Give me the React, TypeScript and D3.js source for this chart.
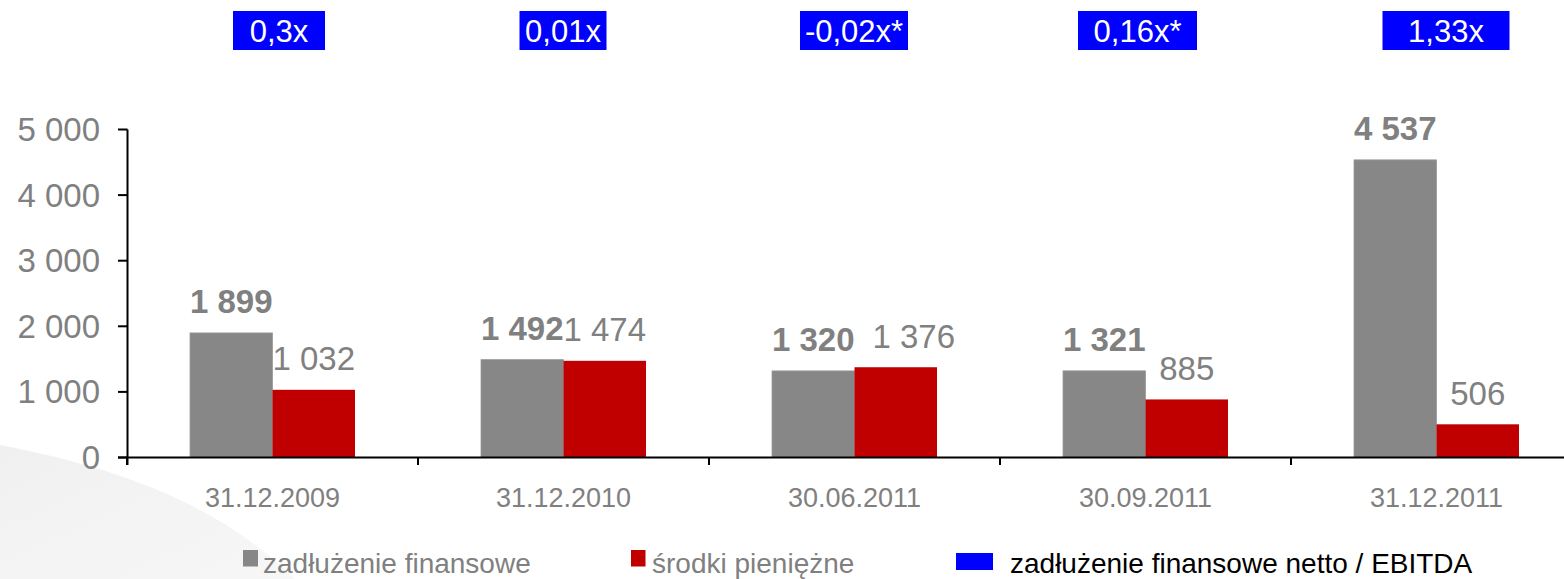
import React from "react";
import * as d3 from "d3";

const categories = ["31.12.2009", "31.12.2010", "30.06.2011", "30.09.2011", "31.12.2011"];
const debtValues = [1899, 1492, 1320, 1321, 4537];
const cashValues = [1032, 1474, 1376, 885, 506];
const ratioLabels = ["0,3x", "0,01x", "-0,02x*", "0,16x*", "1,33x"];
const yTicks = [0, 1000, 2000, 3000, 4000, 5000];
const seriesNames = ["zadłużenie finansowe", "środki pieniężne"];
const ratioLegend = "zadłużenie finansowe netto / EBITDA";

// layout of the manually placed ratio boxes and labels (style only)
const boxWidths = [92, 87, 108, 119, 127];
const boxOffsets = [6.5, -0.5, -0.5, -8, 9.5];
const cashLabelDx = [0, 0, 18, 0, 0];

const W = 1564;
const H = 579;
const FONT = "'Liberation Sans', Arial, Helvetica, sans-serif";
const GRAY = "#878787";
const RED = "#C00000";
const BLUE = "#0000FF";
const TEXT_GRAY = "#808080";

const fmt = (v: number) => {
  const s = String(Math.round(v));
  return s.replace(/\B(?=(\d{3})+(?!\d))/g, " ");
};

export default function App() {
  const x = d3.scaleBand<string>().domain(categories).range([127, 1582]).padding(0);
  const y = d3.scaleLinear().domain([0, 5000]).range([457.5, 129.5]);
  const barW = 82.5;
  const inner = d3
    .scaleBand<string>()
    .domain(["debt", "cash"])
    .range([-barW, barW])
    .padding(0);

  const axisY = y(0);
  const boundaries = d3.range(categories.length + 1).map((i) => 127 + x.step() * i);

  return (
    <svg
      width={W}
      height={H}
      viewBox={`0 0 ${W} ${H}`}
      style={{ position: "absolute", left: 0, top: 0, background: "#fff" }}
      fontFamily={FONT}
    >
      <defs>
        <linearGradient id="swoosh" x1="0" y1="0" x2="1" y2="1">
          <stop offset="0" stopColor="#f0f0f0" />
          <stop offset="1" stopColor="#f7f7f7" />
        </linearGradient>
      </defs>
      <rect x={0} y={0} width={W} height={H} fill="#fff" />
      <path d="M0,445 C120,468 220,505 295,579 L0,579 Z" fill="url(#swoosh)" />

      {/* ratio boxes */}
      {categories.map((c, i) => {
        const cx = (x(c) as number) + x.bandwidth() / 2 + boxOffsets[i];
        const bw = boxWidths[i];
        return (
          <g key={"box" + c}>
            <rect x={cx - bw / 2} y={11} width={bw} height={39} fill={BLUE} />
            <text x={cx} y={41.5} textAnchor="middle" fill="#fff" fontSize={31}>
              {ratioLabels[i]}
            </text>
          </g>
        );
      })}

      {/* bars */}
      {categories.map((c, i) => {
        const cx = (x(c) as number) + x.bandwidth() / 2;
        const gx = cx + (inner("debt") as number);
        const rx = cx + (inner("cash") as number);
        const bw = inner.bandwidth();
        return (
          <g key={"bars" + c}>
            <rect
              x={gx}
              y={y(debtValues[i])}
              width={bw}
              height={axisY - y(debtValues[i])}
              fill={GRAY}
              stroke="#9a9a9a"
              strokeWidth={0.8}
            />
            <rect
              x={rx}
              y={y(cashValues[i])}
              width={bw}
              height={axisY - y(cashValues[i])}
              fill={RED}
            />
            <text
              x={gx + bw / 2}
              y={y(debtValues[i]) - 19.5}
              textAnchor="middle"
              fill={TEXT_GRAY}
              fontSize={33}
              fontWeight="bold"
            >
              {fmt(debtValues[i])}
            </text>
            <text
              x={rx + bw / 2 + cashLabelDx[i]}
              y={y(cashValues[i]) - 19.5}
              textAnchor="middle"
              fill={TEXT_GRAY}
              fontSize={33}
            >
              {fmt(cashValues[i])}
            </text>
          </g>
        );
      })}

      {/* y axis */}
      <line x1={127.5} x2={127.5} y1={y(5000)} y2={465} stroke="#000" strokeWidth={2} />
      {yTicks.map((t) => (
        <g key={"yt" + t}>
          <line x1={118} x2={127.5} y1={y(t)} y2={y(t)} stroke="#000" strokeWidth={2} />
          <text x={100} y={y(t) + 11.5} textAnchor="end" fill={TEXT_GRAY} fontSize={33}>
            {fmt(t)}
          </text>
        </g>
      ))}

      {/* x axis */}
      <line x1={118} x2={W} y1={axisY} y2={axisY} stroke="#000" strokeWidth={2} />
      {boundaries.map((bx, i) => (
        <line key={"xt" + i} x1={bx} x2={bx} y1={axisY} y2={465} stroke="#000" strokeWidth={2} />
      ))}
      {categories.map((c) => (
        <text
          key={"xl" + c}
          x={(x(c) as number) + x.bandwidth() / 2}
          y={507}
          textAnchor="middle"
          fill={TEXT_GRAY}
          fontSize={27}
        >
          {c}
        </text>
      ))}

      {/* legend */}
      <rect x={243} y={550} width={15} height={16.5} fill={GRAY} />
      <text x={263} y={573} fill={TEXT_GRAY} fontSize={28}>
        {seriesNames[0]}
      </text>
      <rect x={631} y={550} width={14.5} height={16.5} fill={RED} />
      <text x={652} y={573} fill={TEXT_GRAY} fontSize={28}>
        {seriesNames[1]}
      </text>
      <rect x={956} y={553} width={37} height={17} fill={BLUE} />
      <text x={1010} y={573} fill="#000" fontSize={28}>
        {ratioLegend}
      </text>
    </svg>
  );
}
